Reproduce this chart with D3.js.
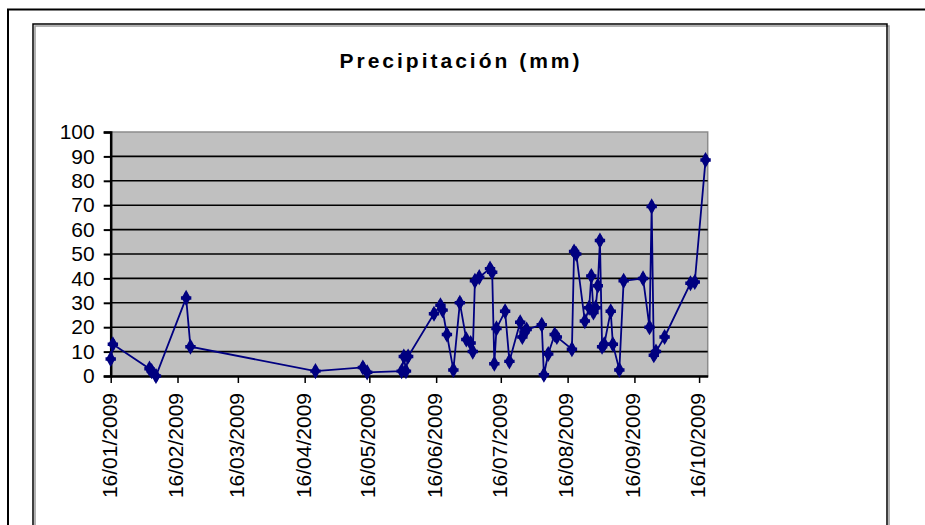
<!DOCTYPE html>
<meta charset="utf-8">
<script src="https://d3js.org/d3.v7.min.js"></script>
<style>
  body { margin: 0; background: #fff; }
  text { font-family: "Liberation Sans", Arial, sans-serif; }
</style>
<div id="chart"></div>
<script>
// measurement dates and rainfall (mm)
var dates = ["2009-01-16","2009-01-17","2009-02-03","2009-02-04","2009-02-06","2009-02-20","2009-02-22",
  "2009-04-21","2009-05-13","2009-05-15","2009-05-31","2009-06-01","2009-06-02","2009-06-03",
  "2009-06-15","2009-06-18","2009-06-19","2009-06-21","2009-06-24","2009-06-27","2009-06-30",
  "2009-07-02","2009-07-03","2009-07-04","2009-07-06","2009-07-11","2009-07-12","2009-07-13",
  "2009-07-14","2009-07-18","2009-07-20","2009-07-25","2009-07-26","2009-07-27","2009-07-28",
  "2009-08-04","2009-08-05","2009-08-07","2009-08-10","2009-08-11","2009-08-18","2009-08-19",
  "2009-08-20","2009-08-24","2009-08-26","2009-08-27","2009-08-28","2009-08-29","2009-08-30",
  "2009-08-31","2009-09-01","2009-09-02","2009-09-05","2009-09-06","2009-09-09","2009-09-11",
  "2009-09-20","2009-09-23","2009-09-24","2009-09-25","2009-09-26","2009-09-30","2009-10-12",
  "2009-10-14","2009-10-19"];
var precip = [7,13,3,2,0,32,12,
  2,3.5,1.5,2,8,2,8,
  25.5,29,27,17,2.5,30,15,
  13.5,10,39,40.5,44,42.5,5,
  19.5,26.5,6,22,16,18,19,
  21,0.5,9,17,16,11,51,
  50,22.5,28,41,26,28,37,
  55.5,12,13,26.5,13,2.5,39,
  40,20,69.5,8.5,10,16,38,
  38.5,88.5];

var xTickLabels = ["16/01/2009","16/02/2009","16/03/2009","16/04/2009","16/05/2009",
  "16/06/2009","16/07/2009","16/08/2009","16/09/2009","16/10/2009"];
var yTicks = [0,10,20,30,40,50,60,70,80,90,100];
var title = "Precipitación (mm)";

var parseDay = d3.timeParse("%Y-%m-%d");
var parseTick = d3.timeParse("%d/%m/%Y");
var data = dates.map(function(d, i) { return {date: parseDay(d), value: precip[i]}; });

var W = 925, H = 525;
var plot = {left: 110.7, right: 707.7, top: 132, bottom: 376};

var svg = d3.select("#chart").append("svg")
    .attr("width", W).attr("height", H);

// outer frame and chart area box
svg.append("path")
    .attr("d", "M8,525 V9.5 H925")
    .attr("fill", "none").attr("stroke", "#000").attr("stroke-width", 2);
svg.append("path")
    .attr("d", "M35,525 V26 H889 V525")
    .attr("fill", "none").attr("stroke", "#999").attr("stroke-width", 1.5);
svg.append("path")
    .attr("d", "M33,525 V24 H887 V525")
    .attr("fill", "none").attr("stroke", "#000").attr("stroke-width", 1.5);

svg.append("text")
    .attr("x", 461).attr("y", 68)
    .attr("text-anchor", "middle")
    .style("font-size", "21px").style("font-weight", "bold")
    .style("letter-spacing", "3px")
    .text(title);

var x = d3.scaleTime()
    .domain([new Date(2009, 0, 16), new Date(2009, 9, 20)])
    .range([plot.left, plot.right]);
var y = d3.scaleLinear()
    .domain([0, 100])
    .range([plot.bottom, plot.top]);

// plot area
svg.append("rect")
    .attr("x", plot.left).attr("y", plot.top)
    .attr("width", plot.right - plot.left).attr("height", plot.bottom - plot.top)
    .attr("fill", "#c0c0c0").attr("stroke", "#8c8c8c").attr("stroke-width", 1.5);

// gridlines
svg.append("g")
    .selectAll("line")
    .data(yTicks.filter(function(d) { return d > 0 && d < 100; }))
    .join("line")
      .attr("x1", plot.left).attr("x2", plot.right)
      .attr("y1", function(d) { return y(d); })
      .attr("y2", function(d) { return y(d); })
      .attr("stroke", "#000").attr("stroke-width", 1.6);

// y axis
var yAxis = svg.append("g")
    .attr("transform", "translate(" + plot.left + ",0)")
    .call(d3.axisLeft(y).tickValues(yTicks).tickSize(7).tickPadding(9));
yAxis.selectAll("text").style("font-size", "21px").attr("fill", "#000");
yAxis.select(".domain").attr("stroke-width", 2.5);
yAxis.selectAll(".tick line").attr("stroke-width", 2);

// x axis
var xAxis = svg.append("g")
    .attr("transform", "translate(0," + plot.bottom + ")")
    .call(d3.axisBottom(x)
      .tickValues(xTickLabels.map(parseTick))
      .tickFormat(d3.timeFormat("%d/%m/%Y"))
      .tickSize(7).tickSizeOuter(0));
xAxis.select(".domain").attr("stroke-width", 2.5);
xAxis.selectAll(".tick line").attr("stroke-width", 1.5);
xAxis.selectAll("text")
    .style("font-size", "21px").attr("fill", "#000")
    .attr("text-anchor", "end")
    .attr("transform", "rotate(-90)")
    .attr("x", -17).attr("y", -2).attr("dy", "0.35em");

// series line and markers
var line = d3.line()
    .x(function(d) { return x(d.date); })
    .y(function(d) { return y(d.value); });

svg.append("path")
    .datum(data)
    .attr("d", line)
    .attr("fill", "none")
    .attr("stroke", "#000080")
    .attr("stroke-width", 1.8);

var diamond = d3.symbol().type(d3.symbolDiamond).size(75);
var cross = d3.symbol().type(d3.symbolCross).size(60);
var marks = svg.append("g").attr("fill", "#000080");
marks.selectAll("path.dm")
    .data(data).join("path").attr("class", "dm")
    .attr("d", diamond)
    .attr("transform", function(d) { return "translate(" + x(d.date) + "," + y(d.value) + ")"; });
marks.selectAll("path.cr")
    .data(data).join("path").attr("class", "cr")
    .attr("d", cross)
    .attr("transform", function(d) { return "translate(" + x(d.date) + "," + y(d.value) + ")"; });
</script>
